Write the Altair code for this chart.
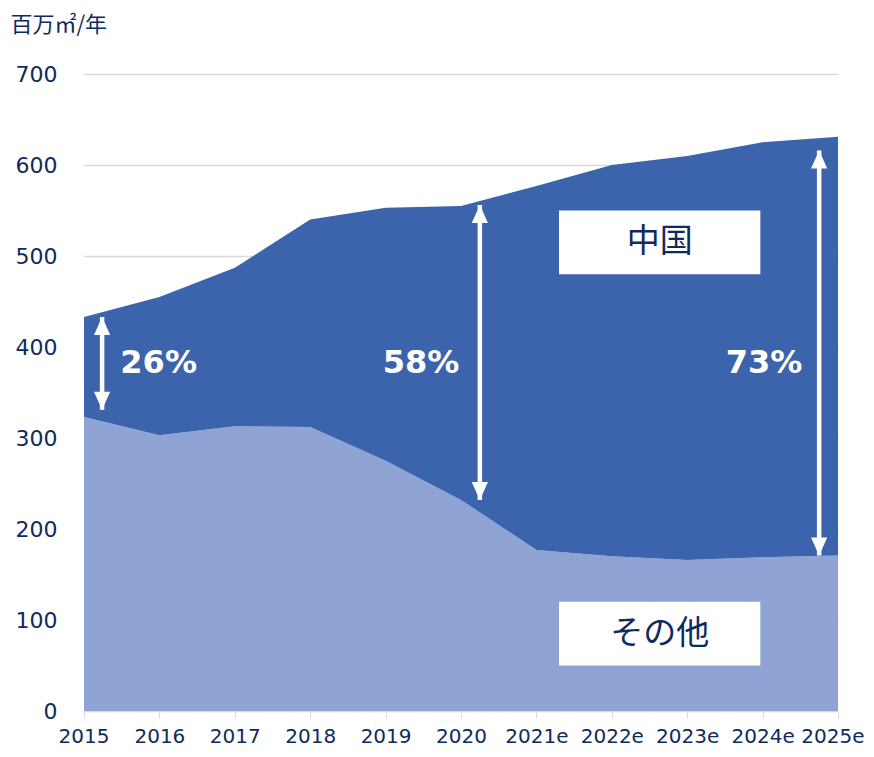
import altair as alt
import pandas as pd

# ---- data ----
years = ["2015", "2016", "2017", "2018", "2019", "2020",
         "2021e", "2022e", "2023e", "2024e", "2025e"]
other = [323, 303, 313, 312, 275, 232, 177, 170, 166, 169, 171]
china = [110, 152, 174, 228, 278, 323, 400, 430, 444, 456, 460]

# annotation arrows (x as year index, tips in data units)
arrow_x = [0.24, 5.25, 9.75]
arrow_top = [433, 556, 616]
arrow_bottom = [331, 232, 171]
pct_labels = ["26%", "58%", "73%"]
pct_x = [0.99, 4.47, 9.02]
pct_y = [382, 382, 382]

# labelled boxes
box_labels = ["中国", "その他"]
box_x1 = [6.30, 6.30]
box_x2 = [8.97, 8.97]
box_y1 = [550, 120]
box_y2 = [480, 50]

NAVY = "#0F2A5E"
DARK = "#3C64AC"
LIGHT = "#8FA4D4"

df = pd.DataFrame({"i": list(range(len(years))), "year": years,
                   "other": other, "china": china})
df["total"] = df["other"] + df["china"]

arrows = pd.DataFrame({"x": arrow_x, "top": arrow_top, "bottom": arrow_bottom})
pcts = pd.DataFrame({"x": pct_x, "y": pct_y, "label": pct_labels})
boxes = pd.DataFrame({"label": box_labels, "x1": box_x1, "x2": box_x2,
                      "y1": box_y1, "y2": box_y2})
boxes["xc"] = (boxes["x1"] + boxes["x2"]) / 2
boxes["yc"] = (boxes["y1"] + boxes["y2"]) / 2

label_expr = "[" + ",".join(f"'{y}'" for y in years) + "][datum.value]"

x_scale = alt.Scale(domain=[0, len(years) - 1], nice=False, zero=False)
y_scale = alt.Scale(domain=[0, 700], nice=False)

x_axis = alt.Axis(values=list(range(len(years))), labelExpr=label_expr,
                  grid=False, domain=True, domainColor="#D9D9D9",
                  ticks=True, tickColor="#D9D9D9", tickSize=7,
                  labelFont="DejaVu Sans", labelFontSize=20, labelColor=NAVY,
                  labelPadding=8, title=None,
                  labelFlush=True, labelFlushOffset=26)
y_axis = alt.Axis(values=list(range(0, 701, 100)), grid=True,
                  gridColor="#D9D9D9", gridWidth=1.5, domain=False, ticks=False,
                  labelFont="DejaVu Sans", labelFontSize=22, labelColor=NAVY,
                  labelPadding=27,
                  title="百万㎡/年", titleAngle=0, titleAlign="left",
                  titleBaseline="middle", titleX=-74, titleY=-50,
                  titleFont="Noto Sans CJK JP", titleFontSize=22,
                  titleFontWeight="normal", titleColor=NAVY)

base = alt.Chart(df)

area_china = base.mark_area(color=DARK, opacity=1).encode(
    x=alt.X("i:Q", scale=x_scale, axis=x_axis),
    y=alt.Y("total:Q", scale=y_scale, axis=y_axis),
    y2="other:Q",
)
area_other = base.mark_area(color=LIGHT, opacity=1).encode(
    x=alt.X("i:Q", scale=x_scale),
    y=alt.Y("other:Q", scale=y_scale),
)

ab = alt.Chart(arrows)
shaft = ab.mark_rule(color="white", strokeWidth=4.5).encode(
    x=alt.X("x:Q", scale=x_scale),
    y=alt.Y("top:Q", scale=y_scale),
    y2="bottom:Q",
)
head_up = ab.mark_point(
    shape="M0,-1L0.9,1L-0.9,1Z", filled=True, color="white",
    size=324, opacity=1, yOffset=9,
).encode(x=alt.X("x:Q", scale=x_scale), y=alt.Y("top:Q", scale=y_scale))
head_down = ab.mark_point(
    shape="M0,1L0.9,-1L-0.9,-1Z", filled=True, color="white",
    size=324, opacity=1, yOffset=-9,
).encode(x=alt.X("x:Q", scale=x_scale), y=alt.Y("bottom:Q", scale=y_scale))

pct_text = alt.Chart(pcts).mark_text(
    color="white", font="DejaVu Sans", fontWeight="bold", fontSize=32,
    align="center", baseline="middle",
).encode(x=alt.X("x:Q", scale=x_scale), y=alt.Y("y:Q", scale=y_scale),
         text="label:N")

bx = alt.Chart(boxes)
box_rect = bx.mark_rect(color="white", opacity=1).encode(
    x=alt.X("x1:Q", scale=x_scale), x2="x2:Q",
    y=alt.Y("y1:Q", scale=y_scale), y2="y2:Q",
)
box_text = bx.mark_text(
    color=NAVY, font="Noto Sans CJK JP", fontSize=33,
    align="center", baseline="middle",
).encode(x=alt.X("xc:Q", scale=x_scale), y=alt.Y("yc:Q", scale=y_scale),
         text="label:N")

chart = alt.layer(
    area_other, area_china, shaft, head_up, head_down, pct_text,
    box_rect, box_text,
).properties(
    width=754, height=637,
    autosize=alt.AutoSizeParams(type="none"),
    padding={"left": 76, "top": 66, "right": 28, "bottom": 38},
).configure_view(stroke=None)

chart.save("out.html", embed_options={"renderer": "svg", "actions": False})
